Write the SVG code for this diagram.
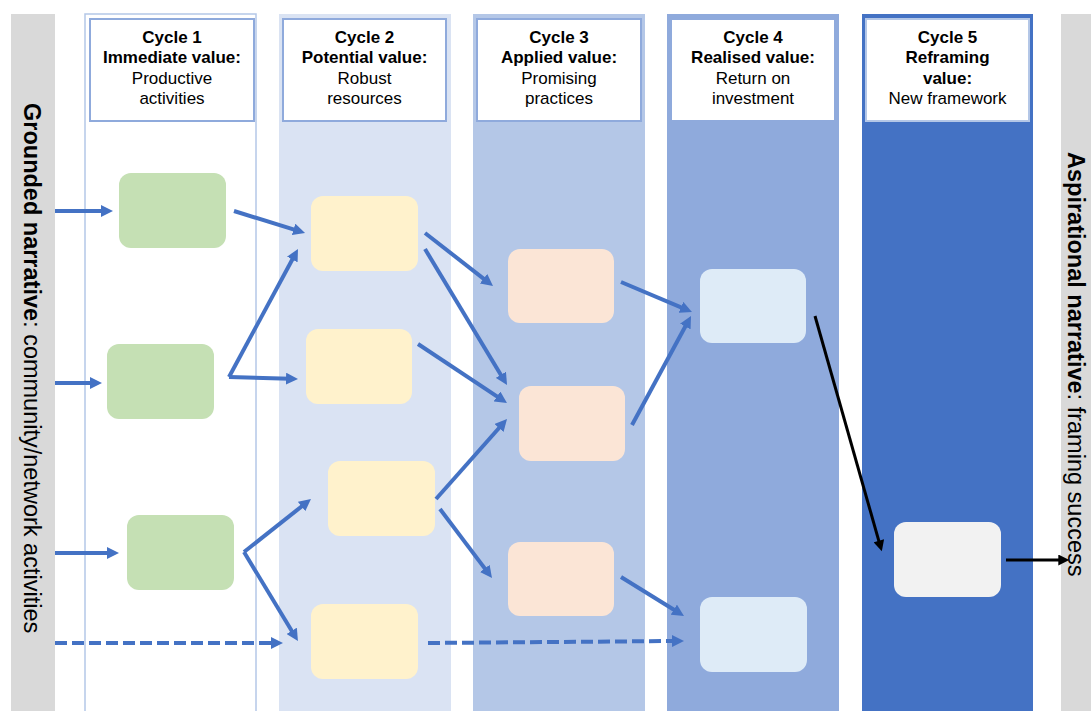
<svg xmlns="http://www.w3.org/2000/svg" width="1091" height="711" viewBox="0 0 1091 711">
<defs>
<marker id="ab" viewBox="0 0 12 12" markerWidth="12" markerHeight="12" markerUnits="userSpaceOnUse" refX="4" refY="6" orient="auto"><path d="M0,0 L12,6 L0,12 z" fill="#4472c4"/></marker>
<marker id="ak" viewBox="0 0 12 12" markerWidth="12" markerHeight="11" markerUnits="userSpaceOnUse" refX="4" refY="6" orient="auto"><path d="M0,0 L12,6 L0,12 z" fill="#000"/></marker>
</defs>
<style>
.hd{fill:#fff;stroke:#8faadc;stroke-width:2}
.ht{font-family:"Liberation Sans",Arial,sans-serif;font-size:17px;fill:#000;text-anchor:middle}
.b{font-weight:bold}
.nt{font-family:"Liberation Sans",Arial,sans-serif;font-size:23.5px;fill:#000}
.c{stroke:#4472c4;stroke-width:4;fill:none;marker-end:url(#ab)}
.d{stroke-dasharray:12 5}
.k{stroke:#000;stroke-width:3;fill:none;marker-end:url(#ak)}
.g{fill:#c5e0b4}.y{fill:#fff2cc}.p{fill:#fbe5d6}.l{fill:#deebf7}.w{fill:#f2f2f2}
</style>
<rect width="1091" height="711" fill="#fff"/>
<g id="left-narrative">
<rect x="11" y="14" width="44" height="697" fill="#d9d9d9"/>
<text class="nt" transform="translate(24,103) rotate(90)"><tspan class="b">Grounded narrative</tspan>: community/network activities</text>
</g>
<g id="right-narrative">
<rect x="1061" y="14" width="30" height="697" fill="#d9d9d9"/>
<text class="nt" transform="translate(1068,152) rotate(90)"><tspan class="b">Aspirational narrative</tspan>: framing success</text>
</g>
<g id="cycle1">
<rect x="85" y="14" width="171" height="700" fill="#fff" stroke="#b4c7e7" stroke-width="1.5"/>
<rect class="hd" x="90" y="19" width="164" height="102"/>
<text class="ht" x="172" y="43"><tspan class="b">Cycle 1</tspan><tspan class="b" x="172" dy="20.3">Immediate value:</tspan><tspan x="172" dy="20.3">Productive</tspan><tspan x="172" dy="20.3">activities</tspan></text>
</g>
<g id="cycle2">
<rect x="279" y="14" width="172" height="697" fill="#dae3f3"/>
<rect class="hd" x="283" y="19" width="163" height="102"/>
<text class="ht" x="364.5" y="43"><tspan class="b">Cycle 2</tspan><tspan class="b" x="364.5" dy="20.3">Potential value:</tspan><tspan x="364.5" dy="20.3">Robust</tspan><tspan x="364.5" dy="20.3">resources</tspan></text>
</g>
<g id="cycle3">
<rect x="473" y="14" width="172" height="697" fill="#b4c7e7"/>
<rect class="hd" x="477" y="19" width="164" height="102"/>
<text class="ht" x="559" y="43"><tspan class="b">Cycle 3</tspan><tspan class="b" x="559" dy="20.3">Applied value:</tspan><tspan x="559" dy="20.3">Promising</tspan><tspan x="559" dy="20.3">practices</tspan></text>
</g>
<g id="cycle4">
<rect x="667" y="14" width="172" height="697" fill="#8faadc"/>
<rect class="hd" x="671" y="19" width="164" height="102"/>
<text class="ht" x="753" y="43"><tspan class="b">Cycle 4</tspan><tspan class="b" x="753" dy="20.3">Realised value:</tspan><tspan x="753" dy="20.3">Return on</tspan><tspan x="753" dy="20.3">investment</tspan></text>
</g>
<g id="cycle5">
<rect x="862" y="14" width="171" height="697" fill="#4472c4"/>
<rect class="hd" x="866" y="19" width="163" height="102" style="stroke:#b4c7e7"/>
<text class="ht" x="947.5" y="43"><tspan class="b">Cycle 5</tspan><tspan class="b" x="947.5" dy="20.3">Reframing</tspan><tspan class="b" x="947.5" dy="20.3">value:</tspan><tspan x="947.5" dy="20.3">New framework</tspan></text>
</g>
<g id="n1a"><rect class="g" x="119" y="173" width="107" height="75" rx="12"/></g>
<g id="n1b"><rect class="g" x="107" y="344" width="107" height="75" rx="12"/></g>
<g id="n1c"><rect class="g" x="127" y="515" width="107" height="75" rx="12"/></g>
<g id="n2a"><rect class="y" x="311" y="196" width="107" height="75" rx="12"/></g>
<g id="n2b"><rect class="y" x="306" y="329" width="106" height="75" rx="12"/></g>
<g id="n2c"><rect class="y" x="328" y="461" width="107" height="75" rx="12"/></g>
<g id="n2d"><rect class="y" x="311" y="604" width="107" height="75" rx="12"/></g>
<g id="n3a"><rect class="p" x="508" y="249" width="106" height="74" rx="12"/></g>
<g id="n3b"><rect class="p" x="519" y="386" width="106" height="75" rx="12"/></g>
<g id="n3c"><rect class="p" x="508" y="542" width="106" height="74" rx="12"/></g>
<g id="n4a"><rect class="l" x="700" y="269" width="106" height="74" rx="12"/></g>
<g id="n4b"><rect class="l" x="700" y="597" width="107" height="75" rx="12"/></g>
<g id="n5"><rect class="w" x="894" y="522" width="107" height="75" rx="12"/></g>
<g id="connectors">
<line class="c" x1="55" y1="211" x2="105" y2="211"/>
<line class="c" x1="55" y1="383" x2="94" y2="383"/>
<line class="c" x1="55" y1="553" x2="111" y2="553"/>
<line class="c d" x1="55" y1="643" x2="275" y2="643"/>
<line class="c" x1="234" y1="211" x2="297.4" y2="230.6"/>
<line class="c" x1="229" y1="377" x2="294.2" y2="256"/>
<line class="c" x1="229" y1="377" x2="290" y2="378.8"/>
<line class="c" x1="244" y1="552" x2="304.7" y2="504"/>
<line class="c" x1="244" y1="552" x2="293.8" y2="634.2"/>
<line class="c d" x1="428" y1="643" x2="676" y2="641"/>
<line class="c" x1="425" y1="233" x2="486.7" y2="281.1"/>
<line class="c" x1="425" y1="249" x2="502.9" y2="378.2"/>
<line class="c" x1="418" y1="344" x2="500.3" y2="398.6"/>
<line class="c" x1="436" y1="499" x2="501.7" y2="425"/>
<line class="c" x1="440" y1="509" x2="487.2" y2="571.6"/>
<line class="c" x1="621" y1="282" x2="684.6" y2="308.9"/>
<line class="c" x1="632" y1="425" x2="687.2" y2="323"/>
<line class="c" x1="621" y1="577" x2="677.2" y2="611.8"/>
<line class="k" x1="815" y1="316" x2="879.8" y2="544.3"/>
<line class="k" x1="1006" y1="560" x2="1062" y2="560"/>
</g>
</svg>
